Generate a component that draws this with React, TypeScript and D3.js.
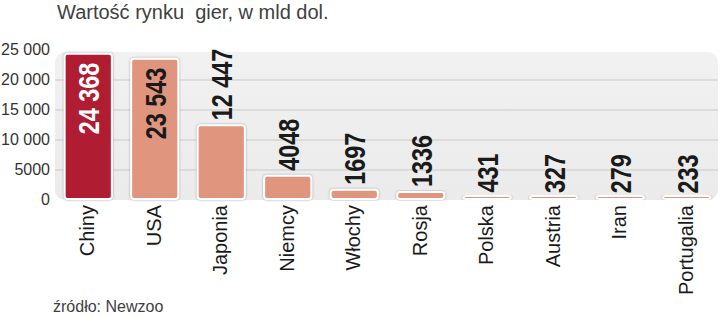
import React from "react";
import * as d3 from "d3";

const categories = ["Chiny", "USA", "Japonia", "Niemcy", "Włochy", "Rosja", "Polska", "Austria", "Iran", "Portugalia"];
const values = [24368, 23543, 12447, 4048, 1697, 1336, 431, 327, 279, 233];
const valueLabels = ["24 368", "23 543", "12 447", "4048", "1697", "1336", "431", "327", "279", "233"];
const yTicks = [0, 5000, 10000, 15000, 20000, 25000];
const yTickLabels = ["0", "5000", "10 000", "15 000", "20 000", "25 000"];
const gridValues = [5000, 10000, 15000, 20000];
const title = "Wartość rynku  gier, w mld dol.";
const source = "źródło: Newzoo";

const W = 720;
const H = 317;

export default function App() {
  const x = d3.scaleBand<string>().domain(categories).range([55, 720]).paddingInner(0.29).paddingOuter(0.145);
  const y = d3.scaleLinear().domain([0, 25000]).range([200, 50]);
  const sans = "'Liberation Sans', Arial, sans-serif";

  return (
    <div style={{ position: "absolute", left: 0, top: 0 }}>
      <svg width={W} height={H} viewBox={`0 0 ${W} ${H}`} style={{ display: "block", background: "#fff" }}>
        <defs>
          <linearGradient id="bg" x1="0" y1="0" x2="0" y2="1">
            <stop offset="0" stopColor="#f1f1f1" />
            <stop offset="1" stopColor="#ebebeb" />
          </linearGradient>
          <filter id="sh" x="-20%" y="-20%" width="140%" height="140%">
            <feDropShadow dx="0" dy="0" stdDeviation="1" floodColor="#8a8a8a" floodOpacity="0.8" />
          </filter>
        </defs>
        <text x={57} y={19} fontFamily={sans} fontSize={20} fill="#404040" style={{ whiteSpace: "pre" }}>
          {title}
        </text>
        <rect x={55} y={y(25000) + 2} width={663} height={y(0) - y(25000) - 2} rx={10} fill="url(#bg)" />
        {gridValues.map((g) => (
          <line key={g} x1={55} x2={718} y1={y(g)} y2={y(g)} stroke="#c9c9c9" strokeWidth={1} />
        ))}
        {yTicks.map((t, i) => (
          <text key={t} x={50} y={y(t) + 4.7} textAnchor="end" fontFamily={sans} fontSize={16} fill="#333">
            {yTickLabels[i]}
          </text>
        ))}
        {categories.map((c, i) => {
          const x0 = x(c)!;
          const bw = x.bandwidth();
          const top = Math.min(y(values[i]), y(0) - 4);
          const fill = i === 0 ? "#b01b33" : "#e0957e";
          return (
            <rect
              key={c}
              x={x0}
              y={top}
              width={bw}
              height={y(0) - 1 - top}
              rx={3}
              fill={fill}
              stroke="#fff"
              strokeWidth={2}
              filter="url(#sh)"
            />
          );
        })}
        {categories.map((c, i) => {
          const cx = x(c)! + x.bandwidth() / 2;
          const inside = i < 2;
          const yy = inside ? y(values[i]) + 9 : y(values[i]) - 5;
          return (
            <text
              key={c}
              transform={`translate(${cx + 11},${yy}) rotate(-90) scale(0.78,1)`}
              textAnchor={inside ? "end" : "start"}
              fontFamily={sans}
              fontWeight="bold"
              fontSize={30}
              fill={i === 0 ? "#fff" : "#1a1a1a"}
            >
              {valueLabels[i]}
            </text>
          );
        })}
        {categories.map((c) => {
          const cx = x(c)! + x.bandwidth() / 2;
          return (
            <text
              key={c}
              transform={`translate(${cx + 6},205) rotate(-90)`}
              textAnchor="end"
              fontFamily={sans}
              fontSize={20}
              fill="#1a1a1a"
            >
              {c}
            </text>
          );
        })}
        <text x={53} y={312} fontFamily={sans} fontSize={16} fill="#404040">
          {source}
        </text>
      </svg>
    </div>
  );
}
